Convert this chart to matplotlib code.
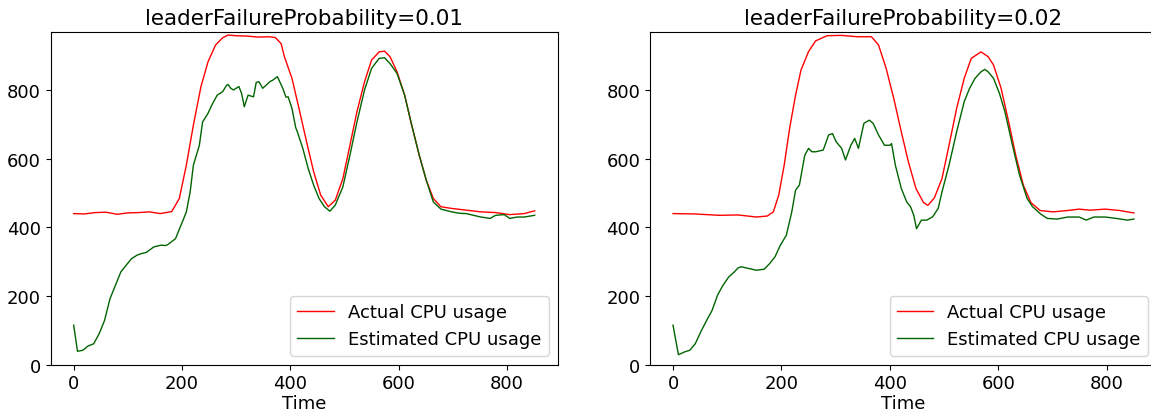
import matplotlib
matplotlib.use("Agg")
import matplotlib.pyplot as plt

# === DATA ===
# leaderFailureProbability = 0.01
t_act_1 = [0, 20, 40, 60, 80, 100, 120, 140, 160, 181, 195, 208, 221, 235, 248, 262,
           275, 285, 300, 320, 340, 360, 372, 383, 389, 403, 416, 430, 443, 456, 470,
           483, 497, 510, 523, 537, 550, 564, 574, 584, 597, 611, 624, 638, 651, 664,
           678, 698, 725, 752, 779, 805, 832, 851]
act_1 = [440, 439, 443, 444, 438, 442, 443, 445, 440, 446, 484, 581, 698, 810, 882, 931,
         952, 960, 958, 957, 954, 955, 953, 935, 897, 834, 746, 649, 562, 494, 460,
         479, 542, 639, 737, 824, 887, 911, 913, 897, 853, 785, 698, 610, 537, 484,
         460, 455, 450, 445, 443, 437, 440, 448]

t_est_1 = [0, 7, 17, 26, 37, 47, 57, 67, 77, 87, 97, 107, 117, 124, 134, 148, 161, 170,
           174, 188, 198, 203, 208, 215, 221, 232, 238, 248, 255, 265, 275, 282, 285,
           290, 295, 305, 310, 312, 315, 322, 332, 337, 342, 349, 356, 362, 369, 376,
           386, 392, 396, 403, 410, 413, 423, 433, 443, 453, 463, 473, 483, 497, 510,
           523, 537, 550, 564, 574, 584, 597, 611, 624, 638, 651, 664, 678, 698, 712,
           725, 738, 752, 769, 779, 795, 805, 819, 832, 851]
est_1 = [115, 39, 42, 54, 61, 90, 129, 192, 231, 270, 290, 309, 319, 323, 327, 343, 348,
         347, 350, 367, 406, 425, 445, 503, 581, 639, 707, 732, 756, 785, 795, 813, 816,
         805, 800, 810, 790, 775, 751, 785, 780, 822, 824, 805, 815, 824, 830, 839,
         805, 779, 780, 746, 690, 678, 630, 571, 523, 484, 460, 447, 465, 518, 610,
         707, 800, 863, 892, 894, 877, 848, 785, 698, 610, 537, 474, 453, 445, 441,
         440, 435, 430, 426, 435, 437, 426, 430, 430, 435]

# leaderFailureProbability = 0.02
t_act_2 = [0, 40, 85, 120, 154, 174, 185, 195, 205, 215, 226, 236, 250, 263, 284, 310,
           340, 366, 379, 393, 407, 421, 434, 448, 462, 470, 482, 496, 509, 523, 537,
           550, 568, 581, 591, 605, 619, 632, 646, 660, 677, 701, 728, 749, 769, 797,
           824, 838, 850]
act_2 = [440, 439, 435, 436, 430, 433, 445, 494, 581, 688, 785, 858, 912, 943, 958, 959,
         955, 955, 931, 863, 776, 678, 591, 513, 472, 464, 486, 542, 639, 746, 834,
         892, 911, 897, 873, 805, 707, 610, 523, 472, 449, 445, 449, 453, 450, 453,
         449, 445, 442]

t_est_2 = [0, 10, 21, 31, 41, 51, 62, 72, 82, 92, 103, 113, 120, 126, 140, 154, 168,
           178, 188, 198, 209, 219, 226, 233, 243, 250, 256, 263, 277, 287, 294, 301,
           311, 318, 328, 335, 342, 352, 362, 369, 379, 390, 400, 403, 410, 421, 431,
           438, 444, 449, 458, 468, 479, 489, 496, 509, 523, 537, 547, 557, 568, 575,
           581, 591, 602, 612, 626, 639, 653, 663, 677, 690, 708, 728, 749, 762, 776,
           797, 817, 838, 850]
est_2 = [115, 29, 37, 42, 61, 95, 129, 158, 202, 231, 256, 270, 282, 285, 280, 275, 278,
         294, 314, 348, 377, 445, 508, 523, 610, 630, 620, 620, 625, 669, 673, 649,
         630, 596, 639, 659, 630, 703, 712, 703, 669, 639, 639, 644, 581, 513, 474,
         460, 435, 396, 421, 421, 431, 455, 503, 581, 678, 766, 805, 834, 853, 860,
         853, 834, 790, 737, 639, 552, 484, 460, 440, 426, 424, 430, 430, 421, 430,
         430, 426, 421, 424]

panels = [
    ("leaderFailureProbability=0.01", t_act_1, act_1, t_est_1, est_1),
    ("leaderFailureProbability=0.02", t_act_2, act_2, t_est_2, est_2),
]

# === PLOT ===
plt.rcParams['font.size'] = 13
fig = plt.figure(figsize=(11.51, 4.14), dpi=100)
lefts = [0.0440, 0.5647]

for left, (title, ta, a, te, e) in zip(lefts, panels):
    ax = fig.add_axes([left, 0.1167, 0.4405, 0.8029])
    ax.plot(ta, a, color='red', lw=1, label="Actual CPU usage")
    ax.plot(te, e, color='darkgreen', lw=1, label="Estimated CPU usage")
    ax.set_ylim(0, 968)
    ax.set_xticks([0, 200, 400, 600, 800])
    ax.set_yticks([0, 200, 400, 600, 800])
    ax.set_xlabel("Time", labelpad=1)
    ax.set_title(title, fontsize=15.5)
    ax.legend(loc='lower right', fontsize=13)

fig.savefig("out.png", dpi=100)
